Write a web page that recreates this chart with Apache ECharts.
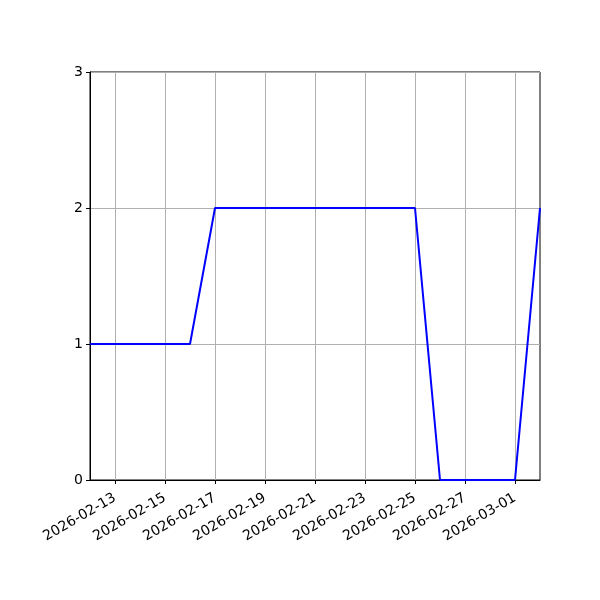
<!DOCTYPE html>
<html>
<head>
<meta charset="utf-8">
<script src="https://cdn.jsdelivr.net/npm/echarts@6/dist/echarts.min.js"></script>
<style>
  html, body { margin: 0; padding: 0; background: #fff; }
  #chart { width: 600px; height: 600px; }
</style>
</head>
<body>
<div id="chart"></div>
<script>
var dates = ['2026-02-12', '2026-02-13', '2026-02-14', '2026-02-15', '2026-02-16',
  '2026-02-17', '2026-02-18', '2026-02-19', '2026-02-20', '2026-02-21', '2026-02-22',
  '2026-02-23', '2026-02-24', '2026-02-25', '2026-02-26', '2026-02-27', '2026-02-28',
  '2026-03-01', '2026-03-02'];
var values = [1, 1, 1, 1, 1, 2, 2, 2, 2, 2, 2, 2, 2, 2, 0, 0, 0, 0, 2];
var yTicks = [0, 1, 2, 3];

window.onload = function () {
  var myChart = echarts.init(document.getElementById('chart'));
  var everyOther = function (index) { return index % 2 === 1; };
  var option = {
    animation: false,
    grid: {
      left: 90, right: 60, top: 72, bottom: 120,
      show: true, borderColor: '#000', borderWidth: 1
    },
    xAxis: {
      type: 'category',
      data: dates,
      boundaryGap: false,
      axisLine: { lineStyle: { color: '#000', width: 1 } },
      axisTick: { interval: everyOther, length: 4, lineStyle: { color: '#000' } },
      axisLabel: {
        interval: everyOther,
        rotate: 30,
        color: '#000',
        fontSize: 14,
        fontFamily: 'DejaVu Sans',
        margin: 17
      },
      splitLine: { show: true, interval: everyOther, lineStyle: { color: '#b0b0b0', width: 1 } }
    },
    yAxis: {
      type: 'value',
      min: yTicks[0],
      max: yTicks[yTicks.length - 1],
      interval: 1,
      axisLine: { show: true, lineStyle: { color: '#000', width: 1 } },
      axisTick: { show: true, length: 4, lineStyle: { color: '#000' } },
      axisLabel: { color: '#000', fontSize: 14, fontFamily: 'DejaVu Sans', margin: 7 },
      splitLine: { show: true, lineStyle: { color: '#b0b0b0', width: 1 } }
    },
    series: [{
      type: 'line',
      data: values,
      showSymbol: false,
      lineStyle: { color: '#0000ff', width: 2 },
      itemStyle: { color: '#0000ff' }
    }]
  };
  myChart.setOption(option);
};
</script>
</body>
</html>
